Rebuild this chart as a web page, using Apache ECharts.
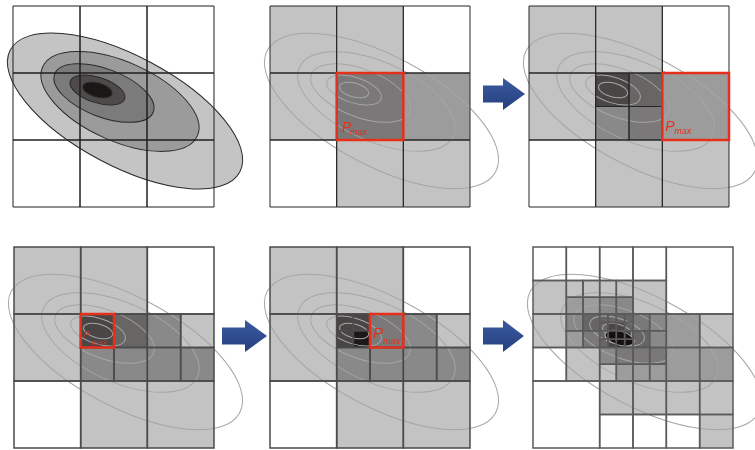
<!DOCTYPE html>
<html>
<head>
<meta charset="utf-8">
<script src="https://cdn.jsdelivr.net/npm/echarts@6/dist/echarts.min.js"></script>
<style>
  html, body { margin: 0; padding: 0; background: #ffffff; }
  #chart { width: 755px; height: 450px; }
</style>
</head>
<body>
<div id="chart"></div>
<script>
// Density contours: [centre x, centre y, semi-major, semi-minor, tilt in degrees],
// in grid units (one coarse cell = 1), outermost first.
const contourLevels = [
  [1.672, 1.567, 1.94, 0.82, 28],
  [1.597, 1.425, 1.264, 0.59, 24],
  [1.358, 1.299, 0.788, 0.358, 21],
  [1.261, 1.254, 0.427, 0.19, 18],
  [1.261, 1.254, 0.224, 0.104, 15]
];
// Refined estimate of the densest region in the final partition
const finalCore = [
  [1.30, 1.36, 0.225, 0.105, 16]
];

// Cells: [x, y, size, density class 0..7]
const cellsStart = [
  [0, 0, 1, 0], [1, 0, 1, 0], [2, 0, 1, 0],
  [0, 1, 1, 0], [1, 1, 1, 0], [2, 1, 1, 0],
  [0, 2, 1, 0], [1, 2, 1, 0], [2, 2, 1, 0]
];
const cellsStep1 = [
  [0, 0, 1, 1], [1, 0, 1, 1], [2, 0, 1, 0],
  [0, 1, 1, 1], [1, 1, 1, 4], [2, 1, 1, 2],
  [0, 2, 1, 0], [1, 2, 1, 1], [2, 2, 1, 1]
];
const cellsStep2 = [
  [0, 0, 1, 1], [1, 0, 1, 1], [2, 0, 1, 0],
  [0, 1, 1, 1],
  [1, 1, 0.5, 6], [1.5, 1, 0.5, 5], [1, 1.5, 0.5, 3], [1.5, 1.5, 0.5, 4],
  [2, 1, 1, 2],
  [0, 2, 1, 0], [1, 2, 1, 1], [2, 2, 1, 1]
];
const cellsStep3 = [
  [0, 0, 1, 1], [1, 0, 1, 1], [2, 0, 1, 0],
  [0, 1, 1, 1],
  [1, 1, 0.5, 6], [1.5, 1, 0.5, 5], [1, 1.5, 0.5, 3], [1.5, 1.5, 0.5, 3],
  [2, 1, 0.5, 3], [2.5, 1, 0.5, 1], [2, 1.5, 0.5, 3], [2.5, 1.5, 0.5, 3],
  [0, 2, 1, 0], [1, 2, 1, 1], [2, 2, 1, 1]
];
const cellsStep4 = [
  [0, 0, 1, 1], [1, 0, 1, 1], [2, 0, 1, 0],
  [0, 1, 1, 1],
  [1, 1, 0.25, 6], [1.25, 1, 0.25, 6], [1, 1.25, 0.25, 6], [1.25, 1.25, 0.25, 7],
  [1.5, 1, 0.5, 4], [1, 1.5, 0.5, 3], [1.5, 1.5, 0.5, 3],
  [2, 1, 0.5, 3], [2.5, 1, 0.5, 1], [2, 1.5, 0.5, 3], [2.5, 1.5, 0.5, 3],
  [0, 2, 1, 0], [1, 2, 1, 1], [2, 2, 1, 1]
];
const cellsFinal = [
  [0, 0, 0.5, 0], [0.5, 0, 0.5, 0], [1, 0, 0.5, 0], [1.5, 0, 0.5, 0], [2, 0, 1, 0],
  [0, 0.5, 0.5, 1],
  [0.5, 0.5, 0.25, 1], [0.75, 0.5, 0.25, 1], [0.5, 0.75, 0.25, 2], [0.75, 0.75, 0.25, 2],
  [1, 0.5, 0.25, 1], [1.25, 0.5, 0.25, 1], [1, 0.75, 0.25, 3], [1.25, 0.75, 0.25, 3],
  [1.5, 0.5, 0.5, 1],
  [0, 1, 0.5, 1],
  [0.5, 1, 0.25, 3], [0.75, 1, 0.25, 5], [0.5, 1.25, 0.25, 2], [0.75, 1.25, 0.25, 4],
  [1, 1, 0.125, 5], [1.125, 1, 0.125, 5], [1.25, 1, 0.125, 5], [1.375, 1, 0.125, 5],
  [1, 1.125, 0.125, 5], [1.125, 1.125, 0.125, 6], [1.25, 1.125, 0.125, 6], [1.375, 1.125, 0.125, 5],
  [1, 1.25, 0.125, 5], [1.125, 1.25, 0.125, 6], [1.25, 1.25, 0.125, 7], [1.375, 1.25, 0.125, 6],
  [1, 1.375, 0.125, 5], [1.125, 1.375, 0.125, 6], [1.25, 1.375, 0.125, 7], [1.375, 1.375, 0.125, 6],
  [1.5, 1, 0.25, 4], [1.75, 1, 0.25, 3], [1.5, 1.25, 0.25, 5], [1.75, 1.25, 0.25, 3],
  [2, 1, 0.5, 2], [2.5, 1, 0.5, 1],
  [0, 1.5, 0.5, 0], [0.5, 1.5, 0.5, 1],
  [1, 1.5, 0.25, 3], [1.25, 1.5, 0.25, 4], [1, 1.75, 0.25, 1], [1.25, 1.75, 0.25, 2],
  [1.5, 1.5, 0.25, 4], [1.75, 1.5, 0.25, 4], [1.5, 1.75, 0.25, 2], [1.75, 1.75, 0.25, 2],
  [2, 1.5, 0.5, 2], [2.5, 1.5, 0.5, 2],
  [0, 2, 1, 0],
  [1, 2, 0.5, 1], [1.5, 2, 0.5, 1], [2, 2, 0.5, 1], [2.5, 2, 0.5, 1],
  [1, 2.5, 0.5, 0], [1.5, 2.5, 0.5, 0], [2, 2.5, 0.5, 0], [2.5, 2.5, 0.5, 1]
];
// Cell holding the current maximum at each refinement step: [x, y, size]
const maxStep1 = [[1, 1, 1]];
const maxStep2 = [[2, 1, 1]];
const maxStep3 = [[1, 1, 0.5]];
const maxStep4 = [[1.5, 1, 0.5]];

const shade = ['#ffffff', '#c3c3c3', '#9c9c9c', '#8a8989', '#7a7878', '#686565', '#4a4646', '#1c1818'];
const levelFill = ['#c4c4c4', '#9b9b9b', '#7b7b7b', '#4e4a4a', '#1c1717'];
const RED = '#e5301c';
const FONT = '"Liberation Sans", Arial, sans-serif';

const panels = [
  { left: 13,  top: 6,   w: 201, h: 201, cells: cellsStart, contours: contourLevels, filled: true,  line: '#1e1e1e', lw: 1 },
  { left: 270, top: 6,   w: 200, h: 201, cells: cellsStep1, contours: contourLevels, line: '#262626', lw: 1,
    max: maxStep1, lab: { p: 14, m: 9, dx: 5, dy: 5, mx: 13, my: 3 } },
  { left: 529, top: 6,   w: 200, h: 201, cells: cellsStep2, contours: contourLevels, line: '#262626', lw: 1,
    max: maxStep2, lab: { p: 14, m: 9, dx: 3, dy: 6, mx: 12, my: 4 } },
  { left: 14,  top: 247, w: 200, h: 201, cells: cellsStep3, contours: contourLevels, line: '#4a4a4a', lw: 1.5,
    max: maxStep3, lab: { p: 9, m: 8, dx: 3, dy: 9, mx: 11, my: 1 } },
  { left: 270, top: 247, w: 200, h: 201, cells: cellsStep4, contours: contourLevels, line: '#4a4a4a', lw: 1.5,
    max: maxStep4, lab: { p: 15, m: 9, dx: 3, dy: 6, mx: 13, my: 2 } },
  { left: 533, top: 247, w: 200, h: 201, cells: cellsFinal, contours: contourLevels, core: finalCore, line: '#5a5a5a', lw: 1.5 }
];

function cellRect(api, x, y, s) {
  const a = api.coord([x, y]);
  const b = api.coord([x + s, y + s]);
  return { x: a[0], y: a[1], width: b[0] - a[0], height: b[1] - a[1] };
}

// Ellipse tilted downward to the right by the given angle
function ellipseEl(api, style) {
  const c = api.coord([api.value(0), api.value(1)]);
  const r = api.size([api.value(2), api.value(3)]);
  return {
    type: 'ellipse', x: c[0], y: c[1], rotation: -api.value(4) * Math.PI / 180,
    shape: { cx: 0, cy: 0, rx: r[0], ry: r[1] }, style: style
  };
}

const grid = [], xAxis = [], yAxis = [], series = [];
panels.forEach(function (pn, i) {
  grid.push({ left: pn.left, top: pn.top, width: pn.w, height: pn.h });
  xAxis.push({ gridIndex: i, type: 'value', min: 0, max: 3, show: false });
  yAxis.push({ gridIndex: i, type: 'value', min: 0, max: 3, inverse: true, show: false });
  const base = { type: 'custom', xAxisIndex: i, yAxisIndex: i, silent: true, encode: { x: 0, y: 1 } };

  series.push(Object.assign({}, base, {
    z: 1, data: pn.cells,
    renderItem: function (p, api) {
      return { type: 'rect', shape: cellRect(api, api.value(0), api.value(1), api.value(2)),
        style: { fill: shade[api.value(3)] } };
    }
  }));
  series.push(Object.assign({}, base, {
    z: 2, data: pn.contours,
    renderItem: function (p, api) {
      if (pn.filled) {
        return ellipseEl(api, { fill: levelFill[p.dataIndex], stroke: '#2a2a2a', lineWidth: 1 });
      }
      return ellipseEl(api, { fill: 'none', stroke: '#a6a6a6', lineWidth: 1 });
    }
  }));
  if (pn.core) {
    series.push(Object.assign({}, base, {
      z: 2, data: pn.core,
      renderItem: function (p, api) {
        return ellipseEl(api, { fill: '#151111', stroke: '#b0b0b0', lineWidth: 1 });
      }
    }));
  }
  series.push(Object.assign({}, base, {
    z: 3, data: pn.cells,
    renderItem: function (p, api) {
      return { type: 'rect', shape: cellRect(api, api.value(0), api.value(1), api.value(2)),
        style: { fill: 'none', stroke: pn.line, lineWidth: pn.lw } };
    }
  }));
  if (pn.max) {
    const L = pn.lab;
    series.push(Object.assign({}, base, {
      z: 4, data: pn.max,
      renderItem: function (p, api) {
        const r = cellRect(api, api.value(0), api.value(1), api.value(2));
        return {
          type: 'group',
          children: [
            { type: 'rect', shape: r, style: { fill: 'none', stroke: RED, lineWidth: 2.5 } },
            { type: 'text', x: r.x + L.dx, y: r.y + r.height - L.dy,
              style: { text: 'P', fill: RED, fontFamily: FONT, fontStyle: 'italic', fontSize: L.p,
                       verticalAlign: 'bottom', align: 'left' } },
            { type: 'text', x: r.x + L.mx, y: r.y + r.height - L.my,
              style: { text: 'max', fill: RED, fontFamily: FONT, fontStyle: 'italic', fontSize: L.m,
                       verticalAlign: 'bottom', align: 'left' } }
          ]
        };
      }
    }));
  }
});

// Step arrows between the panels
function arrow(x0, xHead, xTip, cy, shaftHalf, headHalf) {
  return {
    type: 'polygon', z: 10,
    shape: { points: [[x0, cy - shaftHalf], [xHead, cy - shaftHalf], [xHead, cy - headHalf], [xTip, cy],
                      [xHead, cy + headHalf], [xHead, cy + shaftHalf], [x0, cy + shaftHalf]] },
    style: { fill: new echarts.graphic.LinearGradient(0, 0, 0, 1, [
      { offset: 0, color: '#3a5aa0' }, { offset: 1, color: '#26407e' }]) }
  };
}

const chart = echarts.init(document.getElementById('chart'), null, { renderer: 'canvas' });
chart.setOption({
  animation: false,
  backgroundColor: '#ffffff',
  grid: grid, xAxis: xAxis, yAxis: yAxis, series: series,
  graphic: [
    arrow(483, 503, 525, 94, 8.5, 16),
    arrow(222, 245, 267, 336, 8.5, 16),
    arrow(483, 503, 524, 336, 8.5, 16)
  ]
});
</script>
</body>
</html>
